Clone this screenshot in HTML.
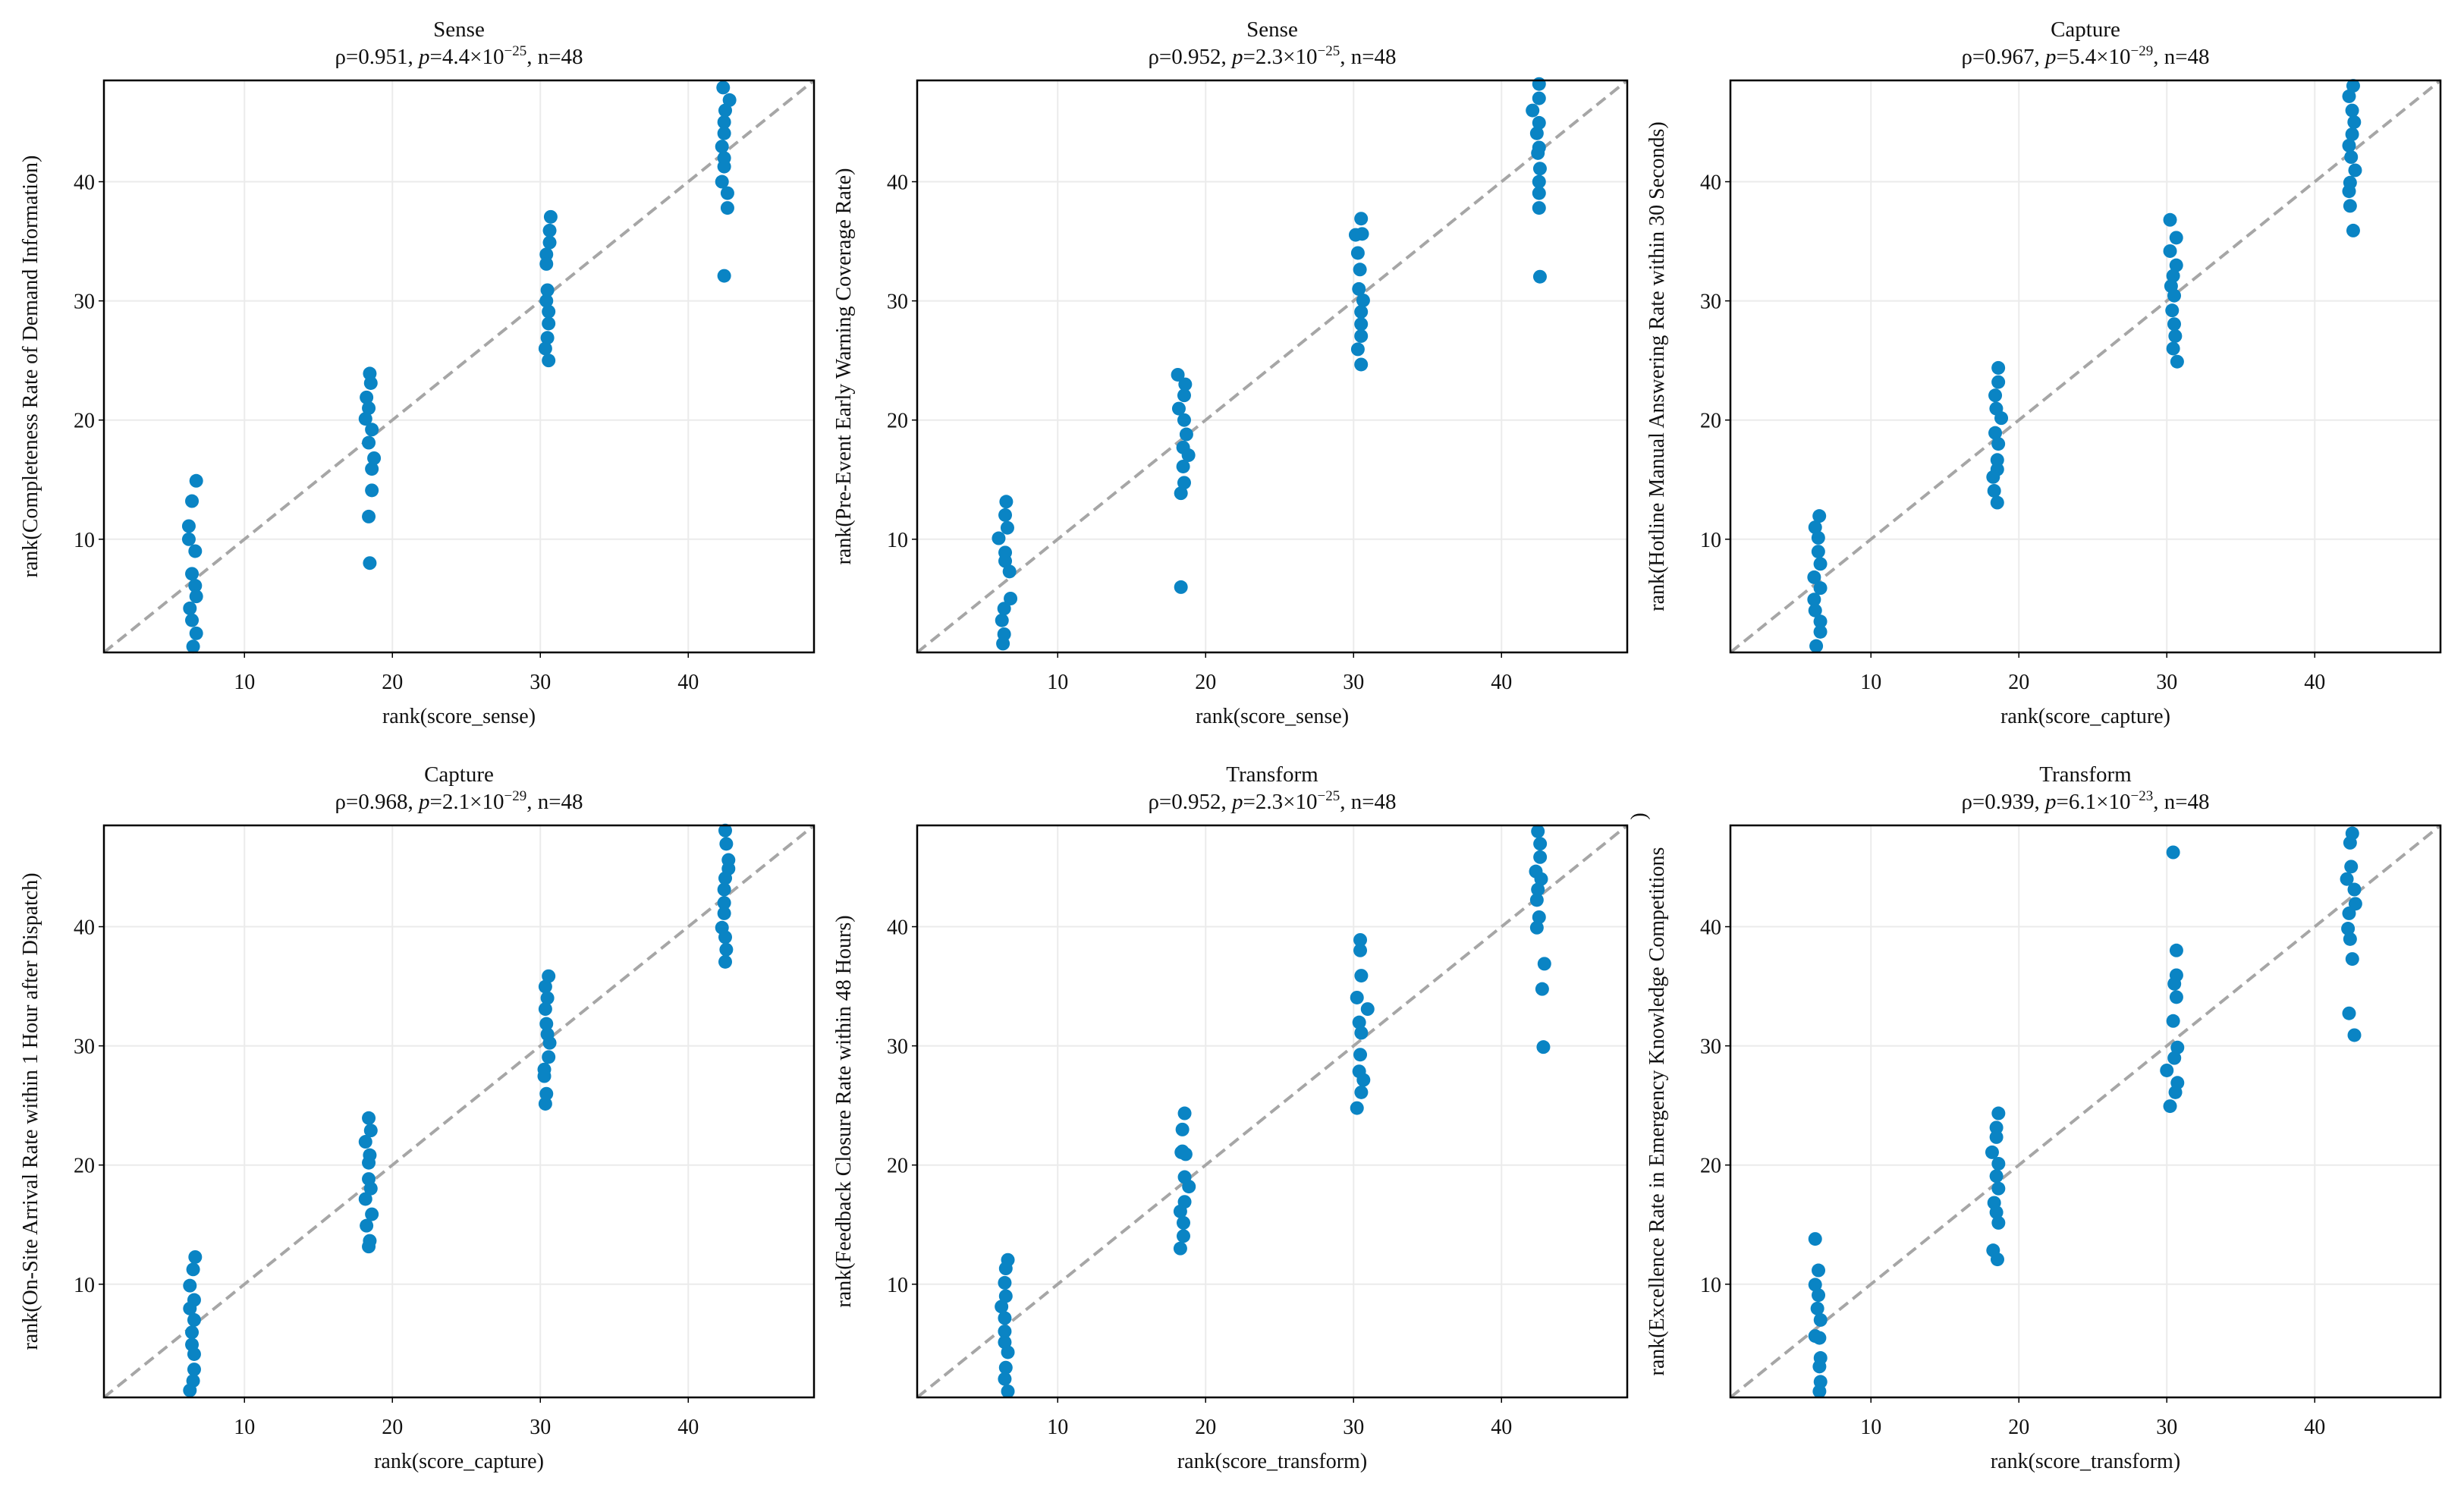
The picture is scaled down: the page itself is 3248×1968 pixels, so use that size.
<!DOCTYPE html>
<html><head><meta charset="utf-8"><style>
html,body{margin:0;padding:0;background:#fff}
svg text{font-family:"Liberation Serif","DejaVu Serif",serif;fill:#111}
</style></head><body>
<svg id="fig" width="3248" height="1963" viewBox="0 0 3248 1963" xmlns="http://www.w3.org/2000/svg"></svg>
<script>
const titles = ["Sense","Sense","Capture","Capture","Transform","Transform"];
const rhoVals = ["0.951","0.952","0.967","0.968","0.952","0.939"];
const pMant = ["4.4","2.3","5.4","2.1","2.3","6.1"];
const pExp = ["−25","−25","−29","−29","−25","−23"];
const xLabels = ["rank(score_sense)","rank(score_sense)","rank(score_capture)","rank(score_capture)","rank(score_transform)","rank(score_transform)"];
const yLabels = ["rank(Completeness Rate of Demand Information)","rank(Pre-Event Early Warning Coverage Rate)","rank(Hotline Manual Answering Rate within 30 Seconds)","rank(On-Site Arrival Rate within 1 Hour after Dispatch)","rank(Feedback Closure Rate within 48 Hours)","rank(Excellence Rate in Emergency Knowledge Competitions"];
const tickVals = [10,20,30,40];
const domainMin = 0.5, domainMax = 48.5;

const p1x = [6.74,6.45,6.24,6.24,6.67,6.45,6.67,6.74,6.31,6.45,6.74,6.53, 18.47,18.54,18.25,18.4,18.18,18.61,18.4,18.76,18.61,18.61,18.4,18.47, 30.7,30.63,30.63,30.41,30.41,30.48,30.41,30.56,30.56,30.48,30.34,30.56, 42.36,42.79,42.5,42.43,42.43,42.28,42.43,42.43,42.28,42.65,42.65,42.43];
const p1y = [14.9,13.2,11.1,10.0,9.0,7.1,6.1,5.2,4.2,3.2,2.1,1.0, 23.9,23.1,21.9,21.0,20.1,19.2,18.1,16.8,15.9,14.1,11.9,8.0, 37.05,35.9,34.9,33.9,33.1,30.9,30.0,29.1,28.1,26.9,26.0,25.0, 47.9,46.85,45.98,45.0,44.06,42.95,41.99,41.27,40.0,39.04,37.8,32.1];
const p2x = [6.52,6.45,6.6,6.01,6.45,6.45,6.74,6.81,6.38,6.23,6.38,6.3, 18.12,18.62,18.55,18.19,18.55,18.7,18.48,18.84,18.48,18.55,18.33,18.33, 30.51,30.14,30.58,30.29,30.43,30.36,30.65,30.51,30.51,30.51,30.29,30.51, 42.54,42.54,42.1,42.54,42.39,42.54,42.46,42.6,42.54,42.54,42.54,42.6];
const p2y = [13.15,12.03,10.96,10.08,8.88,8.17,7.29,5.02,4.18,3.19,2.03,1.24, 23.8,23.0,22.07,20.96,20.0,18.8,17.7,17.05,16.1,14.74,13.86,5.98, 36.9,35.54,35.62,34.02,32.63,31.0,30.04,29.08,28.05,27.05,25.94,24.66, 48.2,47.0,45.98,44.94,44.06,42.87,42.4,41.1,40.0,39.04,37.8,32.03];
const p3x = [6.51,6.23,6.44,6.44,6.58,6.16,6.58,6.16,6.23,6.58,6.58,6.3, 18.61,18.61,18.4,18.47,18.81,18.4,18.61,18.54,18.54,18.26,18.33,18.54, 30.22,30.64,30.22,30.64,30.43,30.29,30.5,30.36,30.5,30.57,30.43,30.7, 42.6,42.32,42.53,42.67,42.53,42.32,42.46,42.73,42.39,42.32,42.39,42.6];
const p3y = [11.95,11.0,10.12,8.96,7.93,6.81,5.9,4.94,4.02,3.1,2.23,1.04, 24.38,23.19,22.07,20.96,20.16,18.92,18.0,16.65,15.86,15.22,14.06,13.07, 36.8,35.3,34.18,32.99,32.1,31.24,30.44,29.2,28.05,27.05,26.0,24.9, 48.05,47.17,45.98,45.0,43.98,43.03,42.07,40.96,39.92,39.2,37.97,35.9];
const p4x = [6.67,6.53,6.31,6.6,6.31,6.6,6.45,6.45,6.6,6.6,6.53,6.31, 18.4,18.54,18.18,18.47,18.4,18.4,18.54,18.18,18.61,18.25,18.47,18.4, 30.56,30.34,30.48,30.34,30.41,30.48,30.63,30.56,30.27,30.27,30.41,30.34, 42.5,42.57,42.72,42.72,42.5,42.43,42.43,42.43,42.28,42.5,42.57,42.5];
const p4y = [12.28,11.24,9.88,8.68,7.96,7.0,5.96,4.93,4.13,2.85,1.89,1.09, 23.94,22.9,21.95,20.83,20.19,18.83,18.03,17.15,15.87,14.91,13.64,13.16, 35.85,34.97,34.01,33.09,31.85,30.97,30.25,29.06,28.02,27.46,25.98,25.14, 48.07,46.95,45.6,44.87,44.07,43.12,42.0,41.12,39.92,39.12,38.08,37.05];
const p5x = [6.63,6.49,6.42,6.49,6.2,6.42,6.42,6.42,6.63,6.49,6.42,6.63, 18.58,18.43,18.43,18.36,18.65,18.58,18.87,18.58,18.29,18.5,18.5,18.29, 30.45,30.45,30.52,30.23,30.95,30.38,30.52,30.45,30.38,30.67,30.52,30.23, 42.46,42.61,42.61,42.32,42.68,42.46,42.39,42.54,42.39,42.9,42.75,42.83];
const p5y = [12.04,11.32,10.12,9.0,8.12,7.16,6.04,5.13,4.29,3.0,2.05,1.01, 24.34,22.98,21.15,21.07,20.91,18.99,18.19,16.91,16.11,15.15,14.04,13.0, 38.89,38.01,35.89,34.05,33.09,31.97,31.09,29.26,27.86,27.14,26.1,24.78, 48.0,46.96,45.84,44.64,44.0,43.12,42.24,40.8,39.92,36.89,34.77,29.9];
const p6x = [6.23,6.45,6.23,6.45,6.38,6.59,6.23,6.52,6.59,6.52,6.59,6.52, 18.62,18.48,18.48,18.19,18.62,18.48,18.62,18.33,18.48,18.62,18.26,18.55, 30.43,30.65,30.65,30.51,30.65,30.43,30.72,30.51,30.0,30.72,30.58,30.22, 42.54,42.39,42.46,42.17,42.68,42.75,42.32,42.25,42.39,42.54,42.32,42.68];
const p6y = [13.8,11.16,9.96,9.08,7.96,7.0,5.65,5.49,3.81,3.09,1.81,1.01, 24.34,23.14,22.34,21.07,20.11,19.07,18.03,16.83,16.03,15.15,12.84,12.08, 46.24,38.01,35.93,35.21,34.09,32.09,29.86,28.98,27.94,26.9,26.1,24.94, 47.83,47.04,45.04,44.0,43.12,41.92,41.12,39.84,38.96,37.29,32.73,30.9];

const xsAll = [p1x,p2x,p3x,p4x,p5x,p6x];
const ysAll = [p1y,p2y,p3y,p4y,p5y,p6y];

const NS = "http://www.w3.org/2000/svg";
const svg = document.getElementById('fig');
function mk(tag, attrs, parent){
  const e = document.createElementNS(NS, tag);
  for (const k in attrs) e.setAttribute(k, attrs[k]);
  (parent||svg).appendChild(e);
  return e;
}
const colLeft = [137,1209,2281], rowTop = [106,1088];
const W = 936, H = 754;

for (let i=0;i<6;i++){
  const L = colLeft[i%3], T = rowTop[Math.floor(i/3)];
  const g = mk('g',{});
  
  
  const sx = v => L + (v-domainMin)/(domainMax-domainMin)*W;
  const sy = v => T + H - (v-domainMin)/(domainMax-domainMin)*H;
  tickVals.forEach(t=>{
    const gx = mk('line',{x1:sx(t),x2:sx(t),y1:T,y2:T+H,stroke:'#ebebeb','stroke-width':2},g);
    
    
    const gy = mk('line',{x1:L,x2:L+W,y1:sy(t),y2:sy(t),stroke:'#ebebeb','stroke-width':2},g);
    
    
  });
  const d = mk('line',{x1:sx(domainMin),y1:sy(domainMin),x2:sx(domainMax),y2:sy(domainMax),stroke:'#a6a6a6','stroke-width':4,'stroke-dasharray':'15 8'},g);
  
  
  const xs = xsAll[i], ys = ysAll[i];
  for (let k=0;k<xs.length;k++){
    const c = mk('circle',{cx:sx(xs[k]),cy:sy(ys[k]),r:9,fill:'#0a84c4'},g);
    
    
  }
  const fr = mk('rect',{x:L,y:T,width:W,height:H,fill:'none',stroke:'#000','stroke-width':2.5},g);
  
  
  tickVals.forEach(t=>{
    mk('line',{x1:sx(t),x2:sx(t),y1:T+H,y2:T+H+7,stroke:'#000','stroke-width':1.5},g);
    const xt = mk('text',{x:sx(t),y:T+H+48,'font-size':28,'text-anchor':'middle'},g);
    xt.textContent = t;
    
    
    mk('line',{x1:L-7,x2:L,y1:sy(t),y2:sy(t),stroke:'#000','stroke-width':1.5},g);
    const yt = mk('text',{x:L-12,y:sy(t)+10,'font-size':28,'text-anchor':'end'},g);
    yt.textContent = t;
    
    
  });
  const cx = L + W/2;
  const t1 = mk('text',{x:cx,y:T-58,'font-size':29,'text-anchor':'middle'},g);
  t1.textContent = titles[i];
  
  
  const t2 = mk('text',{x:cx,y:T-22,'font-size':29,'text-anchor':'middle'},g);
  
  
  const a = mk('tspan',{},t2); a.textContent = 'ρ='+rhoVals[i]+', ';
  const b = mk('tspan',{'font-style':'italic'},t2); b.textContent = 'p';
  const c2 = mk('tspan',{},t2); c2.textContent = '='+pMant[i]+'×10';
  const e = mk('tspan',{'font-size':19,dy:-11},t2); e.textContent = pExp[i];
  const f = mk('tspan',{dy:11},t2); f.textContent = ', n=48';
  const xl = mk('text',{x:cx,y:T+H+93,'font-size':28,'text-anchor':'middle'},g);
  xl.textContent = xLabels[i];
  
  
  const yx = L - 88, yy = T + H/2;
  const yl = mk('text',{x:yx,y:yy,'font-size':28,'text-anchor':'middle',transform:'rotate(-90 '+yx+' '+yy+')'},g);
  yl.textContent = yLabels[i];
  
  
  if (i===5){
    const px = L - 112, py = T - 12;
    const pr = mk('text',{x:px,y:py,'font-size':28,'text-anchor':'middle',transform:'rotate(-90 '+px+' '+py+')'},g);
    pr.textContent = ')';
    
    
  }
}
</script>
</body></html>
